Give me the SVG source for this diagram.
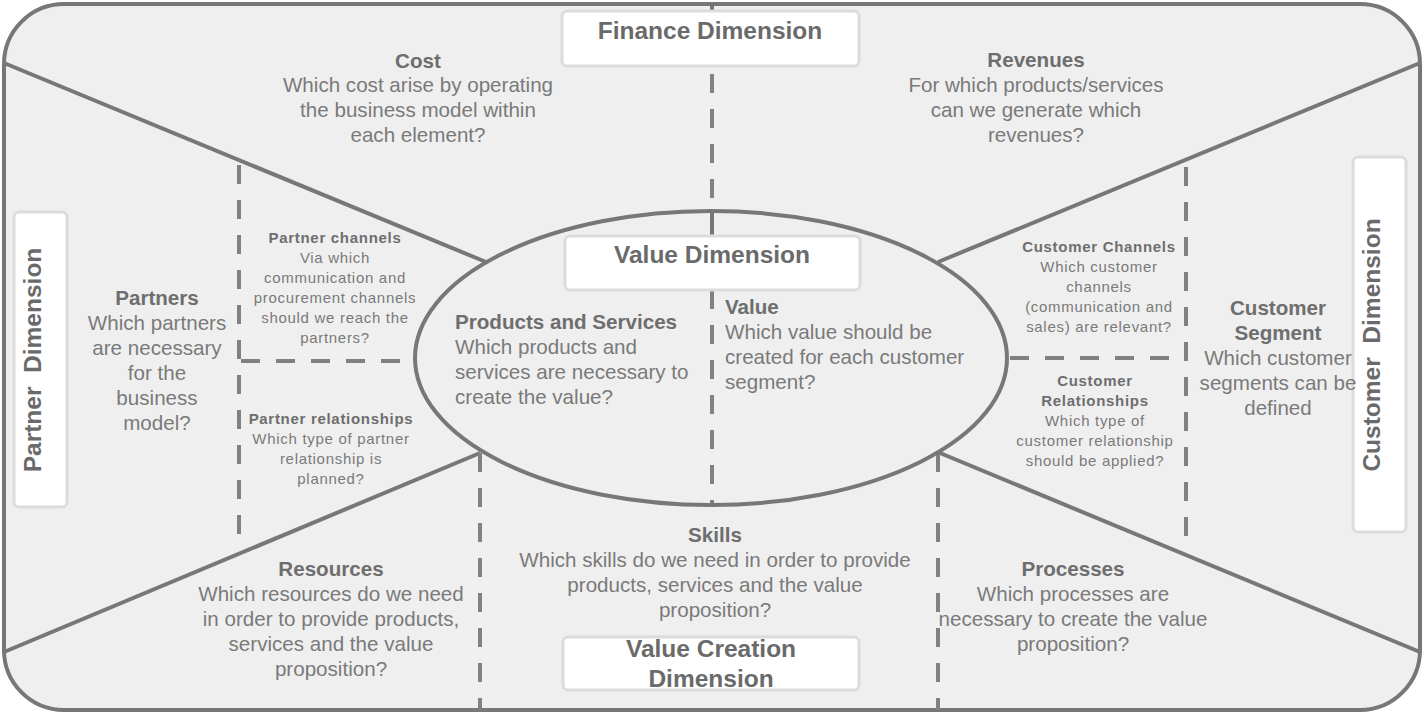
<svg xmlns="http://www.w3.org/2000/svg" width="1424" height="715" viewBox="0 0 1424 715">
<style>
text{font-family:"Liberation Sans",Arial,sans-serif;fill:#7a7a7a;text-anchor:middle}
.h{font-weight:bold;fill:#6e6e6e}
.t20{font-size:20.6px}
.t15{font-size:15px;letter-spacing:0.7px}
.dim{font-size:24.5px;font-weight:bold;fill:#6a6a6a;white-space:pre}
.solid{stroke:#777;stroke-width:4;fill:none}
.dash{stroke:#808080;stroke-width:4;fill:none;stroke-dasharray:19 16}
.box{fill:#fff;stroke:#dcdcdc;stroke-width:3}
.l{text-anchor:start}
</style>
<rect x="4" y="4" width="1416" height="706" rx="60" ry="60" fill="#efefef" stroke="#777" stroke-width="4"/>
<g id="connectors">
<line class="solid" x1="4" y1="63" x2="486" y2="262"/>
<line class="solid" x1="1420" y1="63" x2="938" y2="262"/>
<line class="solid" x1="4" y1="652" x2="480" y2="453"/>
<line class="solid" x1="1420" y1="652" x2="940" y2="453"/>
<line class="solid" x1="712" y1="4" x2="712" y2="14"/>
<line class="dash" x1="712" y1="74" x2="712" y2="210"/>
<line class="solid" x1="712" y1="210" x2="712" y2="236"/>
<line class="dash" x1="712" y1="290" x2="712" y2="506"/>
<line class="dash" x1="239" y1="165" x2="239" y2="536"/>
<line class="dash" x1="241" y1="361" x2="402" y2="361"/>
<line class="dash" x1="1186" y1="167" x2="1186" y2="538"/>
<line class="dash" x1="1010" y1="358" x2="1172" y2="358"/>
<line class="dash" x1="480" y1="453" x2="480" y2="710"/>
<line class="dash" x1="938" y1="453" x2="938" y2="710"/>
</g>
<g id="value-ellipse">
<ellipse class="solid" cx="711" cy="358" rx="296" ry="147"/>
</g>
<g id="finance-dimension">
<rect class="box" x="562" y="11" width="297" height="55" rx="5"/>
<text class="dim" x="710" y="39">Finance Dimension</text>
</g>
<g id="value-dimension">
<rect class="box" x="565" y="236" width="295" height="54" rx="5"/>
<text class="dim" x="712" y="263">Value Dimension</text>
</g>
<g id="value-creation-dimension">
<rect class="box" x="563" y="637" width="296" height="53" rx="5"/>
<text class="dim" x="711" y="657">Value Creation</text>
<text class="dim" x="711" y="687">Dimension</text>
</g>
<g id="partner-dimension">
<rect class="box" x="14" y="212" width="53" height="295" rx="5"/>
<text class="dim" transform="translate(41,360) rotate(-90)" x="0" y="0">Partner  Dimension</text>
</g>
<g id="customer-dimension">
<rect class="box" x="1353" y="157" width="53" height="375" rx="5"/>
<text class="dim" transform="translate(1380,345) rotate(-90)" x="0" y="0">Customer  Dimension</text>
</g>
<g id="cost" class="t20">
<text class="h" x="418" y="68">Cost</text>
<text x="418" y="92">Which cost arise by operating</text>
<text x="418" y="117">the business model within</text>
<text x="418" y="142">each element?</text>
</g>
<g id="revenues" class="t20">
<text class="h" x="1036" y="67">Revenues</text>
<text x="1036" y="92">For which products/services</text>
<text x="1036" y="117">can we generate which</text>
<text x="1036" y="142">revenues?</text>
</g>
<g id="partners" class="t20">
<text class="h" x="157" y="305">Partners</text>
<text x="157" y="330">Which partners</text>
<text x="157" y="355">are necessary</text>
<text x="157" y="380">for the</text>
<text x="157" y="405">business</text>
<text x="157" y="430">model?</text>
</g>
<g id="partner-channels" class="t15">
<text class="h" x="335" y="243">Partner channels</text>
<text x="335" y="263">Via which</text>
<text x="335" y="283">communication and</text>
<text x="335" y="303">procurement channels</text>
<text x="335" y="323">should we reach the</text>
<text x="335" y="343">partners?</text>
</g>
<g id="partner-relationships" class="t15">
<text class="h" x="331" y="424">Partner relationships</text>
<text x="331" y="444">Which type of partner</text>
<text x="331" y="464">relationship is</text>
<text x="331" y="484">planned?</text>
</g>
<g id="products-services" class="t20">
<text class="h l" x="455" y="329">Products and Services</text>
<text class="l" x="455" y="354">Which products and</text>
<text class="l" x="455" y="379">services are necessary to</text>
<text class="l" x="455" y="404">create the value?</text>
</g>
<g id="value" class="t20">
<text class="h l" x="725" y="314">Value</text>
<text class="l" x="725" y="339">Which value should be</text>
<text class="l" x="725" y="364">created for each customer</text>
<text class="l" x="725" y="389">segment?</text>
</g>
<g id="customer-channels" class="t15">
<text class="h" x="1099" y="252">Customer Channels</text>
<text x="1099" y="272">Which customer</text>
<text x="1099" y="292">channels</text>
<text x="1099" y="312">(communication and</text>
<text x="1099" y="332">sales) are relevant?</text>
</g>
<g id="customer-relationships" class="t15">
<text class="h" x="1095" y="386">Customer</text>
<text class="h" x="1095" y="406">Relationships</text>
<text x="1095" y="426">Which type of</text>
<text x="1095" y="446">customer relationship</text>
<text x="1095" y="466">should be applied?</text>
</g>
<g id="customer-segment" class="t20">
<text class="h" x="1278" y="315">Customer</text>
<text class="h" x="1278" y="340">Segment</text>
<text x="1278" y="365">Which customer</text>
<text x="1278" y="390">segments can be</text>
<text x="1278" y="415">defined</text>
</g>
<g id="skills" class="t20">
<text class="h" x="715" y="542">Skills</text>
<text x="715" y="567">Which skills do we need in order to provide</text>
<text x="715" y="592">products, services and the value</text>
<text x="715" y="617">proposition?</text>
</g>
<g id="resources" class="t20">
<text class="h" x="331" y="576">Resources</text>
<text x="331" y="601">Which resources do we need</text>
<text x="331" y="626">in order to provide products,</text>
<text x="331" y="651">services and the value</text>
<text x="331" y="676">proposition?</text>
</g>
<g id="processes" class="t20">
<text class="h" x="1073" y="576">Processes</text>
<text x="1073" y="601">Which processes are</text>
<text x="1073" y="626">necessary to create the value</text>
<text x="1073" y="651">proposition?</text>
</g>
</svg>
